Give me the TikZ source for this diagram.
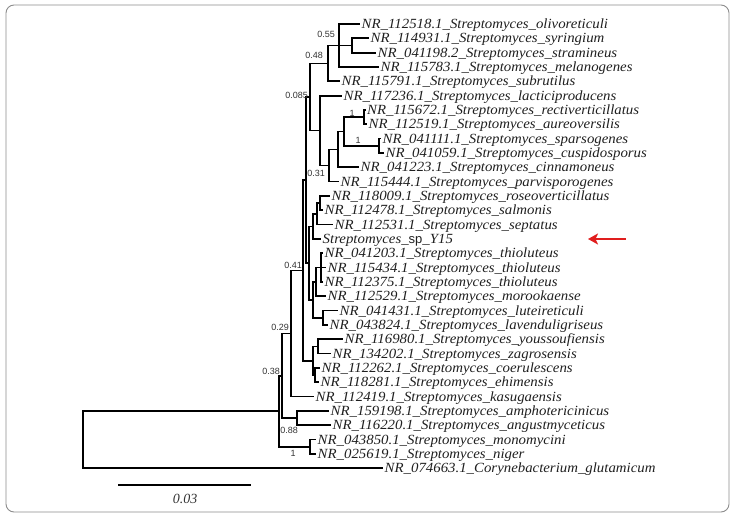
\documentclass[tikz,border=0pt]{standalone}
\usepackage{fontspec}
\setmainfont{Liberation Serif}
\newfontfamily\leaffont{Liberation Serif}[FakeStretch=1.06]
\newfontfamily\labfont{Liberation Sans}
\usetikzlibrary{arrows.meta}
\tikzset{
  br/.style={line width=1.7pt, line join=miter},
  leaf/.style={anchor=west, inner xsep=1.5pt, inner ysep=0pt, text height=9pt, text depth=0pt,
    font=\leaffont\itshape\fontsize{14}{14}\selectfont, text=black!88},
  boot/.style={inner sep=0pt, font=\labfont\fontsize{9}{9}\selectfont, text=black!80},
}
\begin{document}
\begin{tikzpicture}[x=1pt,y=-1pt]
\useasboundingbox (0,0) rectangle (736,519);
\draw[black!45, line width=0.9pt, rounded corners=8pt] (6,5) rectangle (729,512);

% internal nodes
\coordinate (root) at (83,439.7);
\coordinate (U0) at (279,411.3);
\coordinate (U1) at (282,375.8);
\coordinate (S) at (291,333.5);
\coordinate (Z) at (303,270.5);
\coordinate (J) at (306,180.1);
\coordinate (X) at (310,97.0);
\coordinate (N048) at (328,63.4);
\coordinate (A) at (339,45.5);
\coordinate (B) at (352,45.5);
\coordinate (I) at (320,130.6);
\coordinate (H) at (329,165.5);
\coordinate (G) at (338,149.4);
\coordinate (F) at (344,131.5);
\coordinate (D) at (364,117.2);
\coordinate (E) at (379,145.8);
\coordinate (Mid) at (309,263.2);
\coordinate (M) at (313,226.5);
\coordinate (L) at (317,213.9);
\coordinate (K1) at (320,203.1);
\coordinate (T3) at (313,299.9);
\coordinate (T2) at (316,282.0);
\coordinate (T1) at (321,267.6);
\coordinate (N) at (323,317.8);
\coordinate (P) at (313,360.8);
\coordinate (Q) at (318,346.5);
\coordinate (R) at (315,375.1);
\coordinate (V) at (297,418.1);
\coordinate (W) at (310,446.8);

% leaves
\node[leaf] (l1) at (360,24.0) {NR\_112518.1\_Streptomyces\_olivoreticuli};
\node[leaf] (l2) at (369,38.3) {NR\_114931.1\_Streptomyces\_syringium};
\node[leaf] (l3) at (376,52.7) {NR\_041198.2\_Streptomyces\_stramineus};
\node[leaf] (l4) at (379,67.0) {NR\_115783.1\_Streptomyces\_melanogenes};
\node[leaf] (l5) at (340,81.3) {NR\_115791.1\_Streptomyces\_subrutilus};
\node[leaf] (l6) at (342,95.7) {NR\_117236.1\_Streptomyces\_lacticiproducens};
\node[leaf] (l7) at (365.5,110.0) {NR\_115672.1\_Streptomyces\_rectiverticillatus};
\node[leaf] (l8) at (367,124.3) {NR\_112519.1\_Streptomyces\_aureoversilis};
\node[leaf] (l9) at (381,138.6) {NR\_041111.1\_Streptomyces\_sparsogenes};
\node[leaf] (l10) at (384,153.0) {NR\_041059.1\_Streptomyces\_cuspidosporus};
\node[leaf] (l11) at (359,167.3) {NR\_041223.1\_Streptomyces\_cinnamoneus};
\node[leaf] (l12) at (339,181.6) {NR\_115444.1\_Streptomyces\_parvisporogenes};
\node[leaf] (l13) at (330,196.0) {NR\_118009.1\_Streptomyces\_roseoverticillatus};
\node[leaf] (l14) at (323,210.3) {NR\_112478.1\_Streptomyces\_salmonis};
\node[leaf] (l15) at (333,224.6) {NR\_112531.1\_Streptomyces\_septatus};
\node[leaf] (l16) at (321,239.0) {Streptomyces\_{\upshape\labfont\fontsize{13}{12}\selectfont sp}\_Y15};
\node[leaf] (l17) at (323,253.3) {NR\_041203.1\_Streptomyces\_thioluteus};
\node[leaf] (l18) at (326,267.6) {NR\_115434.1\_Streptomyces\_thioluteus};
\node[leaf] (l19) at (323,281.9) {NR\_112375.1\_Streptomyces\_thioluteus};
\node[leaf] (l20) at (326,296.3) {NR\_112529.1\_Streptomyces\_morookaense};
\node[leaf] (l21) at (338,310.6) {NR\_041431.1\_Streptomyces\_luteireticuli};
\node[leaf] (l22) at (328,324.9) {NR\_043824.1\_Streptomyces\_lavenduligriseus};
\node[leaf] (l23) at (343,339.3) {NR\_116980.1\_Streptomyces\_youssoufiensis};
\node[leaf] (l24) at (331,353.6) {NR\_134202.1\_Streptomyces\_zagrosensis};
\node[leaf] (l25) at (320,367.9) {NR\_112262.1\_Streptomyces\_coerulescens};
\node[leaf] (l26) at (319,382.3) {NR\_118281.1\_Streptomyces\_ehimensis};
\node[leaf] (l27) at (314,396.6) {NR\_112419.1\_Streptomyces\_kasugaensis};
\node[leaf] (l28) at (329,410.9) {NR\_159198.1\_Streptomyces\_amphotericinicus};
\node[leaf] (l29) at (331,425.2) {NR\_116220.1\_Streptomyces\_angustmyceticus};
\node[leaf] (l30) at (316,439.6) {NR\_043850.1\_Streptomyces\_monomycini};
\node[leaf] (l31) at (316,453.9) {NR\_025619.1\_Streptomyces\_niger};
\node[leaf] (l32) at (383,468.2) {NR\_074663.1\_Corynebacterium\_glutamicum};

% internal edges
\foreach \p/\c in {root/U0, U0/U1, U0/W, U1/S, U1/V, S/Z, Z/J, Z/P, J/X, J/Mid,
  X/N048, X/I, N048/A, A/B, I/H, H/G, G/F, F/D, F/E, Mid/M, Mid/T3, M/L, L/K1,
  T3/T2, T3/N, T2/T1, P/Q, P/R}
  \draw[br] (\p) |- (\c);
% leaf edges
\foreach \p/\c in {root/l32, S/l27, A/l1, A/l4, B/l2, B/l3, N048/l5, I/l6, H/l12,
  G/l11, D/l7, D/l8, E/l9, E/l10, M/l16, L/l15, K1/l13, K1/l14, T1/l17, T1/l18,
  T1/l19, T2/l20, N/l21, N/l22, Q/l23, Q/l24, R/l25, R/l26, V/l28, V/l29, W/l30, W/l31}
  \draw[br] (\p) |- (\c.west);

% bootstrap values
\node[boot, anchor=east] (b055) at (335,34) {0.55};
\node[boot, anchor=east] (b048) at (323,55) {0.48};
\node[boot, anchor=east] (b0085) at (308,95) {0.085};
\node[boot] (b1a) at (352,113) {1};
\node[boot] (b1b) at (358,140) {1};
\node[boot, anchor=east] (b031) at (325,173) {0.31};
\node[boot, anchor=east] (b041) at (302,265) {0.41};
\node[boot, anchor=east] (b029) at (289,327) {0.29};
\node[boot, anchor=east] (b038) at (280,371) {0.38};
\node[boot, anchor=east] (b088) at (298,430) {0.88};
\node[boot] (b1c) at (293,453) {1};

% scale bar
\coordinate (sb1) at (118,485);
\coordinate (sb2) at (251,485);
\draw[line width=1.7pt] (sb1) -- (sb2);
\node[font=\itshape\fontsize{14}{14}\selectfont, text=black!80] (sblab) at (185,499) {0.03};

% red arrow
\coordinate (arT) at (626,239);
\coordinate (arH) at (588,239);
\draw[line width=2.4pt, color={rgb,255:red,224;green,30;blue,30},
  -{Stealth[length=10pt,width=11pt,inset=2.5pt]}] (arT) -- (arH);
\end{tikzpicture}
\end{document}
